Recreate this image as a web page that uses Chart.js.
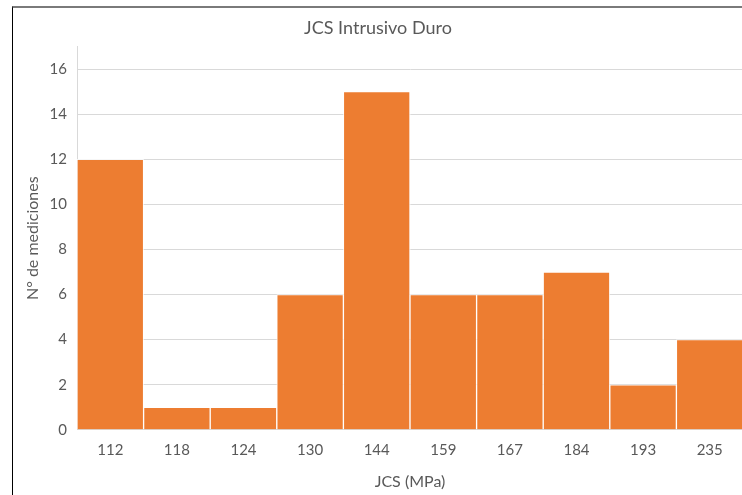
<!DOCTYPE html>
<html>
<head>
<meta charset="utf-8">
<script src="https://cdn.jsdelivr.net/npm/chart.js@4"></script>
<style>
  html, body { margin: 0; padding: 0; background: #fff; }
  #frame {
    position: absolute; left: 12px; top: 6px;
    width: 730px; height: 489px;
    border-left: 1px solid #000; border-top: 2px solid #7a7a7a;
  }
  #frame canvas { display: block; }
</style>
</head>
<body>
<div id="frame"><canvas id="myChart" width="730" height="487"></canvas></div>
<script>

var labels = ['112', '118', '124', '130', '144', '159', '167', '184', '193', '235'];

var counts = [12, 1, 1, 6, 15, 6, 6, 7, 2, 4];

var yTicks = [0, 2, 4, 6, 8, 10, 12, 14, 16];

var textColor = '#595959';

var fontName = 'Lato, "Open Sans", sans-serif';

var data = {
    labels: labels,
    datasets: [{
        label: 'N° de mediciones',
        data: counts,
        backgroundColor: '#ED7D31',
        borderColor: 'rgba(255, 255, 255, 0.75)',
        borderWidth: 1,
        borderSkipped: 'bottom',
        barPercentage: 1,
        categoryPercentage: 1
    }]
};

var config = {
    type: 'bar',
    data: data,
    options: {
        responsive: false,
        animation: false,
        layout: { padding: { top: 0, right: 0, bottom: 1, left: 0 } },
        plugins: {
            legend: { display: false },
            tooltip: { enabled: false },
            title: {
                display: true,
                text: 'JCS Intrusivo Duro',
                color: textColor,
                font: { family: fontName, size: 18, weight: 'normal' },
                padding: { top: 9, bottom: 8 }
            }
        },
        scales: {
            x: {
                grid: { display: false, drawTicks: false },
                border: { display: true, color: '#d9d9d9' },
                ticks: {
                    color: textColor,
                    font: { family: fontName, size: 15 },
                    padding: 11
                },
                title: {
                    display: true,
                    text: 'JCS (MPa)',
                    color: textColor,
                    font: { family: fontName, size: 16 },
                    padding: { top: 2, bottom: 3 }
                }
            },
            y: {
                min: 0,
                max: 17,
                afterFit: function (scale) { scale.width = 64; },
                afterBuildTicks: function (scale) {
                    scale.ticks = yTicks.map(function (v) { return { value: v }; });
                },
                grid: { color: '#d9d9d9', drawTicks: false },
                border: { display: true, color: '#d9d9d9' },
                ticks: {
                    color: textColor,
                    font: { family: fontName, size: 15 },
                    padding: 10
                },
                title: {
                    display: true,
                    text: 'N° de mediciones',
                    color: textColor,
                    font: { family: fontName, size: 16 },
                    padding: { top: 10, bottom: 0 }
                }
            }
        }
    }
};

var myChart = new Chart(document.getElementById('myChart'), config);

</script>
</body>
</html>
